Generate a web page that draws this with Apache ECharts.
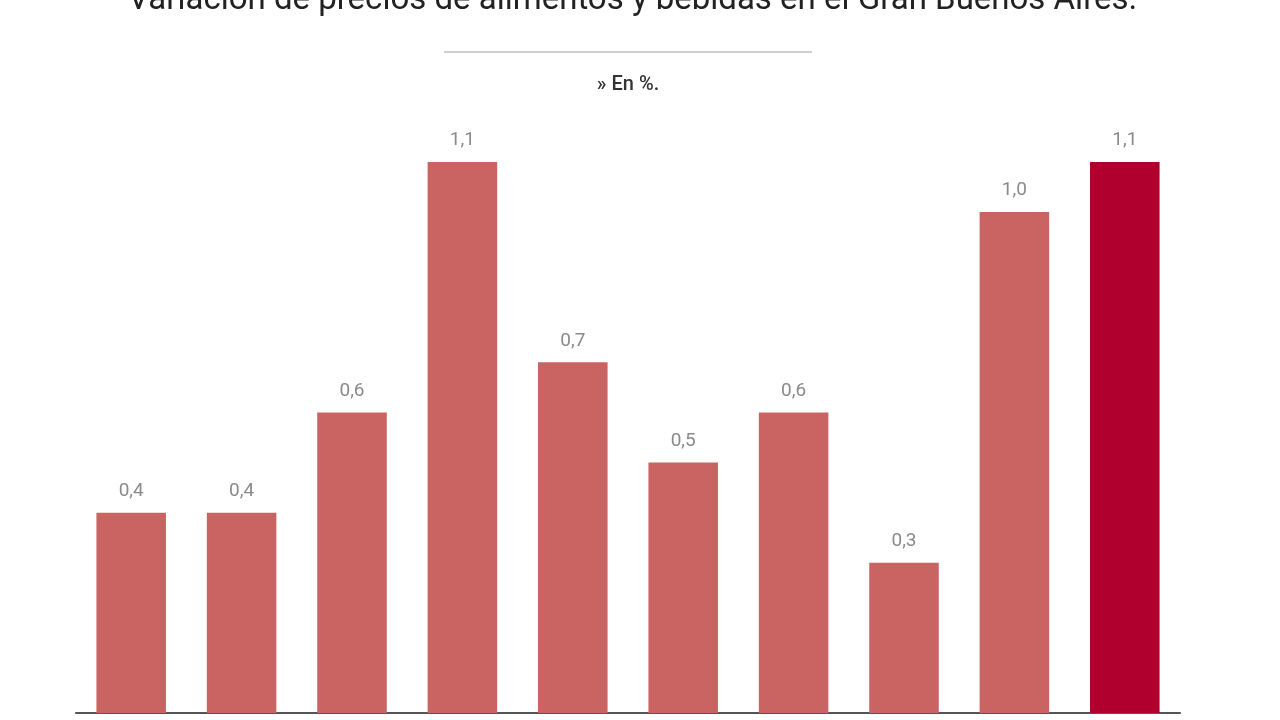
<!DOCTYPE html>
<html>
<head>
<meta charset="utf-8">
<script src="https://cdn.jsdelivr.net/npm/echarts@6/dist/echarts.min.js"></script>
<style>
  html, body { margin: 0; padding: 0; background: #fff; }
  #main { width: 1280px; height: 720px; }
</style>
</head>
<body>
<div id="main"></div>
<script>
// datos (etiquetas del eje no visibles en la imagen)
var categorias = ['1', '2', '3', '4', '5', '6', '7', '8', '9', '10']
var valores = [0.4, 0.4, 0.6, 1.1, 0.7, 0.5, 0.6, 0.3, 1.0, 1.1]
var colorBarra = '#c96462'
var colorUltima = '#b0002e'

var myChart = echarts.init(document.getElementById('main'))

myChart.setOption({
  animation: false,
  title: {
    text: 'Variación de precios de alimentos y bebidas en el Gran Buenos Aires.',
    left: 123,
    top: -21,
    textStyle: {
      fontFamily: 'Roboto, sans-serif',
      fontSize: 33,
      fontWeight: 'normal',
      color: '#222'
    }
  },
  graphic: [
    {
      type: 'line',
      shape: { x1: 444, y1: 52, x2: 812, y2: 52 },
      style: { stroke: '#cfcfcf', lineWidth: 2 }
    },
    {
      type: 'text',
      x: 628,
      y: 85,
      style: {
        text: '» En %.',
        textAlign: 'center',
        textVerticalAlign: 'middle',
        font: '500 20px Roboto, sans-serif',
        fill: '#333'
      }
    }
  ],
  grid: {
    left: 76,
    right: 100,
    top: 162,
    bottom: 7
  },
  xAxis: {
    type: 'category',
    data: categorias,
    axisLine: { lineStyle: { color: '#555', width: 2 } },
    axisTick: { show: false },
    axisLabel: { show: false }
  },
  yAxis: {
    type: 'value',
    min: 0,
    max: 1.1,
    show: false,
    splitLine: { show: false }
  },
  series: [{
    type: 'bar',
    barWidth: '63%',
    data: valores.map(function (v, i) {
      return {
        value: v,
        itemStyle: { color: i === valores.length - 1 ? colorUltima : colorBarra }
      }
    }),
    label: {
      show: true,
      position: 'top',
      distance: 12,
      fontFamily: 'Roboto, sans-serif',
      fontSize: 19,
      color: '#8a8a8a',
      formatter: function (p) {
        return p.value.toFixed(1).replace('.', ',')
      }
    }
  }]
})
</script>
</body>
</html>
